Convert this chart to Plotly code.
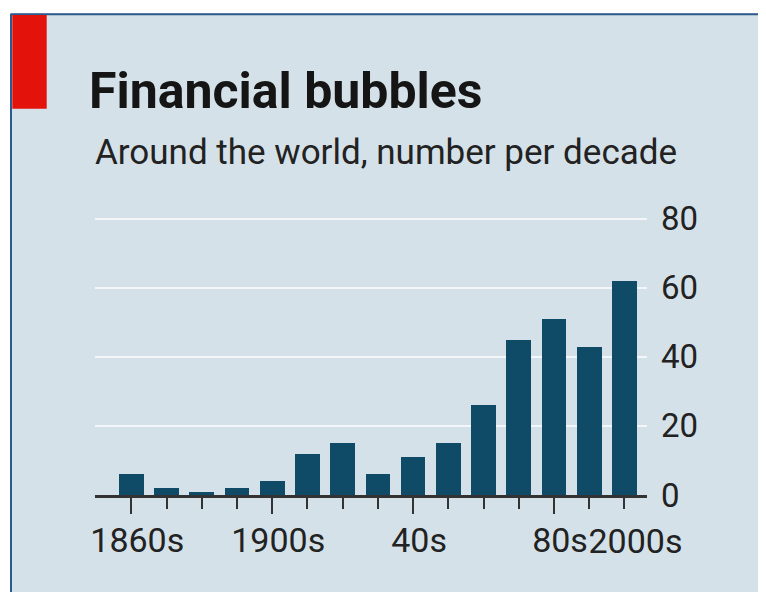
import plotly.graph_objects as go

# ---- data ----
decades = [1860, 1870, 1880, 1890, 1900, 1910, 1920, 1930, 1940, 1950, 1960, 1970, 1980, 1990, 2000]
bubbles = [6, 2, 1, 2, 4, 12, 15, 6, 11, 15, 26, 45, 51, 43, 62]
label_map = {1860: "1860s", 1900: "1900s", 1940: "40s", 1980: "80s"}
last_label = {2000: "2000s"}
major_ticks = [1860, 1900, 1940, 1980]
y_ticks = [0, 20, 40, 60, 80]

title = "Financial bubbles"
subtitle = "Around the world, number per decade"

# ---- geometry (page pixels; the page body adds an 8px offset) ----
OFF = 8
W, H = 766 - OFF, 592 - OFF
YMAX = 80.5
L, R, B = 95 - OFF, 647 - OFF, 495.5 - OFF
PPU = (495.5 - 219) / 80.0
T = B - YMAX * PPU

def px_x(p):
    return (p - OFF - L) / (R - L)

def px_y(p):
    return (B - (p - OFF)) / (B - T)

BG = "#d5e1e8"
BAR = "#0f4b66"
TXT = "#222222"
AX = "#333333"
FONT = "Roboto"

fig = go.Figure()
fig.add_trace(go.Bar(x=decades, y=bubbles, width=7, marker=dict(color=BAR, line=dict(width=0)),
                     hoverinfo="x+y", showlegend=False))
fig.add_trace(go.Scatter(x=[], y=[], xaxis="x2", yaxis="y", showlegend=False, hoverinfo="skip"))
fig.add_trace(go.Scatter(x=[], y=[], xaxis="x3", yaxis="y", showlegend=False, hoverinfo="skip"))

xr = [1849.7, 2006.4]
ticktext = [label_map.get(d, "") for d in decades]
tickfont_x = dict(family=FONT, size=34, color=TXT)

fig.update_layout(
    width=W, height=H, autosize=False,
    margin=dict(l=L, r=W - R, t=T, b=H - B, pad=0, autoexpand=False),
    paper_bgcolor=BG, plot_bgcolor="rgba(0,0,0,0)",
    font=dict(family=FONT, color=TXT),
    bargap=0,
    xaxis=dict(range=xr, tickmode="array", tickvals=decades, ticktext=ticktext, tickangle=0,
               ticks="outside", ticklen=11, tickwidth=2, tickcolor=AX, automargin=False,
               showline=True, linecolor=AX, linewidth=2.5, showgrid=False, zeroline=False,
               tickfont=tickfont_x, ticklabelshift=6, ticklabelstandoff=2, fixedrange=True),
    xaxis2=dict(range=xr, overlaying="x", side="bottom", anchor="y", tickmode="array",
                tickvals=major_ticks, ticks="outside", ticklen=18, tickwidth=2, tickcolor=AX,
                showticklabels=False, showgrid=False, zeroline=False, showline=False,
                automargin=False, fixedrange=True),
    xaxis3=dict(range=xr, overlaying="x", side="bottom", anchor="y", tickmode="array",
                tickvals=list(last_label.keys()), ticktext=list(last_label.values()), tickangle=0,
                ticks="outside", ticklen=11, tickwidth=2, tickcolor="rgba(0,0,0,0)",
                showgrid=False, zeroline=False, showline=False, automargin=False,
                tickfont=tickfont_x, ticklabelshift=11, ticklabelstandoff=5, fixedrange=True),
    yaxis=dict(range=[0, YMAX], side="right", tickmode="array", tickvals=y_ticks,
               showgrid=True, gridcolor="#f3f7f9", gridwidth=2, zeroline=False,
               ticks="", ticklabelstandoff=13, showline=False, automargin=False,
               tickfont=dict(family=FONT, size=33, color=TXT), fixedrange=True),
    shapes=[
        dict(type="rect", xref="paper", yref="paper", x0=px_x(0), x1=px_x(10.2),
             y0=px_y(600), y1=px_y(0), fillcolor="white", line=dict(width=0), layer="below"),
        dict(type="rect", xref="paper", yref="paper", x0=px_x(0), x1=px_x(780),
             y0=px_y(13.4), y1=px_y(0), fillcolor="white", line=dict(width=0), layer="below"),
        dict(type="line", xref="paper", yref="paper", x0=px_x(10.5), x1=px_x(780),
             y0=px_y(14.3), y1=px_y(14.3), line=dict(color="#2c5a8e", width=2), layer="below"),
        dict(type="line", xref="paper", yref="paper", x0=px_x(11), x1=px_x(11),
             y0=px_y(14), y1=px_y(600), line=dict(color="#2c5a8e", width=2), layer="below"),
        dict(type="rect", xref="paper", yref="paper", x0=px_x(12.3), x1=px_x(46.7),
             y0=px_y(109), y1=px_y(15.2), fillcolor="#e3120b", line=dict(width=0), layer="below"),
    ],
    annotations=[
        dict(text="<b>" + title + "</b>", xref="paper", yref="paper", x=px_x(87), y=px_y(91.5),
             xanchor="left", yanchor="middle", showarrow=False,
             font=dict(family=FONT, size=50, color="#151515")),
        dict(text=subtitle, xref="paper", yref="paper", x=px_x(93), y=px_y(152.5),
             xanchor="left", yanchor="middle", showarrow=False,
             font=dict(family=FONT, size=35, color=TXT)),
    ],
)

fig.write_html("out.html", config={"displayModeBar": False})
